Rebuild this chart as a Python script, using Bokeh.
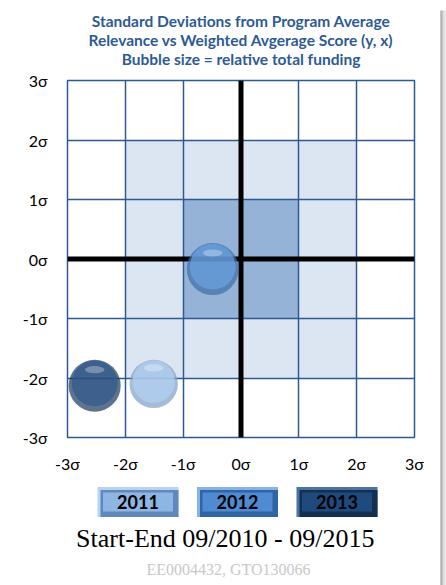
from bokeh.plotting import figure
from bokeh.layouts import column, row
from bokeh.models import Range1d, FixedTicker, ColumnDataSource, Title
from bokeh.core.properties import value
from bokeh.embed import file_html
from bokeh.resources import INLINE

# ---- data ----
title_lines = ["Standard Deviations from Program Average",
               "Relevance vs Weighted Avgerage Score (y, x)",
               "Bubble size = relative total funding"]
sigma_ticks = [-3, -2, -1, 0, 1, 2, 3]
sigma_labels = ["-3σ", "-2σ", "-1σ", "0σ", "1σ", "2σ", "3σ"]
years = ["2011", "2012", "2013"]
score_x = [-1.51, -0.49, -2.53]        # weighted average score (σ)
relevance_y = [-2.10, -0.17, -2.13]    # relevance (σ)
funding_rel = [0.93, 1.00, 1.00]       # relative total funding
bubble_colors = ["#b4d2f4", "#6aa2e0", "#2f5a8c"]
bubble_edges = ["#7f9fc6", "#3f6ea8", "#1a385c"]
button_colors = ["#8fb5e2", "#4f8bd3", "#1f4a7e"]
button_light = ["#b8d3f2", "#86b2e6", "#4a72a3"]
button_edges = ["#5f88bd", "#2f64a5", "#13304f"]
band_outer = [-2, 2]
band_inner = [-1, 1]
period_text = "Start-End  09/2010 - 09/2015"
id_text = "EE0004432, GTO130066"

BLUE = "#2e5a94"
FONT = "Lato"
LEFT, RIGHT = 67, 24

p = figure(width=438, height=478, x_range=Range1d(-3, 3), y_range=Range1d(-3, 3),
           output_backend="svg", toolbar_location=None,
           min_border_left=LEFT, min_border_right=RIGHT, min_border_top=80, min_border_bottom=41)
p.title.visible = False
# spacer keeps the title block clear of the frame
p.add_layout(Title(text=" ", text_font_size="1px", standoff=10, offset=0), "above")
for line in reversed(title_lines):
    p.add_layout(Title(text=line, align="center", text_font=FONT, text_font_style="bold",
                       text_font_size="15.5px", text_color=BLUE, standoff=-1, offset=0), "above")

labels = {t: l for t, l in zip(sigma_ticks, sigma_labels)}
for ax in (p.xaxis[0], p.yaxis[0]):
    ax.ticker = FixedTicker(ticks=sigma_ticks)
    ax.major_label_overrides = labels
    ax.axis_line_color = None
    ax.major_tick_line_color = None
    ax.minor_tick_line_color = None
    ax.major_label_text_font = FONT
    ax.major_label_text_font_size = "16px"
    ax.major_label_text_color = "black"
p.xaxis.major_label_standoff = 10
p.yaxis.major_label_standoff = 14

for g in (p.xgrid[0], p.ygrid[0]):
    g.ticker = FixedTicker(ticks=sigma_ticks)
    g.grid_line_color = BLUE
    g.grid_line_width = 1.5
    g.grid_line_alpha = 1.0
p.outline_line_color = BLUE
p.outline_line_width = 1.5
p.background_fill_color = "white"

# shaded bands
p.quad(left=[band_outer[0]], right=[band_outer[1]], bottom=[band_outer[0]], top=[band_outer[1]],
       fill_color="#dce6f2", line_color=None, level="image")
p.quad(left=[band_inner[0]], right=[band_inner[1]], bottom=[band_inner[0]], top=[band_inner[1]],
       fill_color="#95b3d7", line_color=None, level="image")

# zero lines
p.segment(x0=[0, sigma_ticks[0]], y0=[sigma_ticks[0], 0], x1=[0, sigma_ticks[-1]], y1=[sigma_ticks[-1], 0],
          line_color="black", line_width=5)

# bubbles (semi-transparent, lines show through)
D = 52
sizes = [D * f for f in funding_rel]
src = ColumnDataSource(dict(x=score_x, y=relevance_y, s=sizes, c=bubble_colors, e=bubble_edges,
                            s2=[s * 0.88 for s in sizes], y2=[y + 0.04 for y in relevance_y],
                            y3=[y + 0.27 for y in relevance_y]))
p.scatter("x", "y", size="s", fill_color="e", fill_alpha=0.7, line_color=None, source=src)
p.scatter("x", "y2", size="s2", fill_color="c", fill_alpha=0.7, line_color=None, source=src)
p.ellipse("x", "y3", width=0.34, height=0.12, fill_color="white", fill_alpha=0.3,
          line_color=None, source=src)

# ---- bottom panel: legend buttons and texts (x in page pixels) ----
q = figure(width=438, height=107, x_range=Range1d(LEFT, 438 - RIGHT), y_range=Range1d(107, 0),
           output_backend="svg", toolbar_location=None,
           min_border_left=LEFT, min_border_right=RIGHT, min_border_top=0, min_border_bottom=0)
q.axis.visible = False
q.grid.visible = False
q.outline_line_color = None
cx = [137.5 + 99.5 * i for i in range(len(years))]
bsrc = ColumnDataSource(dict(x=cx, x2=[c + 1.5 for c in cx], y=[23.5] * 3, y2=[25] * 3, t=years,
                             c=button_colors, l=button_light, e=button_edges))
q.rect("x", "y", width=81, height=30, fill_color="l", line_color=None, source=bsrc)
q.rect("x2", "y2", width=78, height=27, fill_color="e", line_color=None, source=bsrc)
q.rect("x", "y", width=70, height=19, fill_color="c", line_color=None, source=bsrc)
q.text("x", "y", text="t", text_align="center", text_baseline="middle", text_font=value(FONT),
       text_font_style="bold", text_font_size="18px", text_color="black", source=bsrc)
q.text([228], [60], text=[period_text], text_align="center", text_baseline="middle",
       text_font=value("Liberation Serif"), text_font_size="26px", text_color="black")
q.text([228], [91], text=[id_text], text_align="center", text_baseline="middle",
       text_font=value("Liberation Serif"), text_font_size="16px", text_color="#c8c8c8")

# card shadow on the right
s = figure(width=8, height=585, x_range=Range1d(0, 8), y_range=Range1d(585, 0),
           output_backend="svg", toolbar_location=None, min_border=0)
s.axis.visible = False
s.grid.visible = False
s.outline_line_color = None
s.quad(left=[2, 3, 4, 5, 6], right=[3, 4, 5, 6, 8], top=[10] * 5, bottom=[585] * 5,
       fill_color=["#8c8c8c", "#a6a6a6", "#bdbdbd", "#d2d2d2", "#e6e6e6"], line_color=None)

layout = row(column(p, q, spacing=0), s, spacing=0)
open("out.html", "w").write(file_html(layout, INLINE))
